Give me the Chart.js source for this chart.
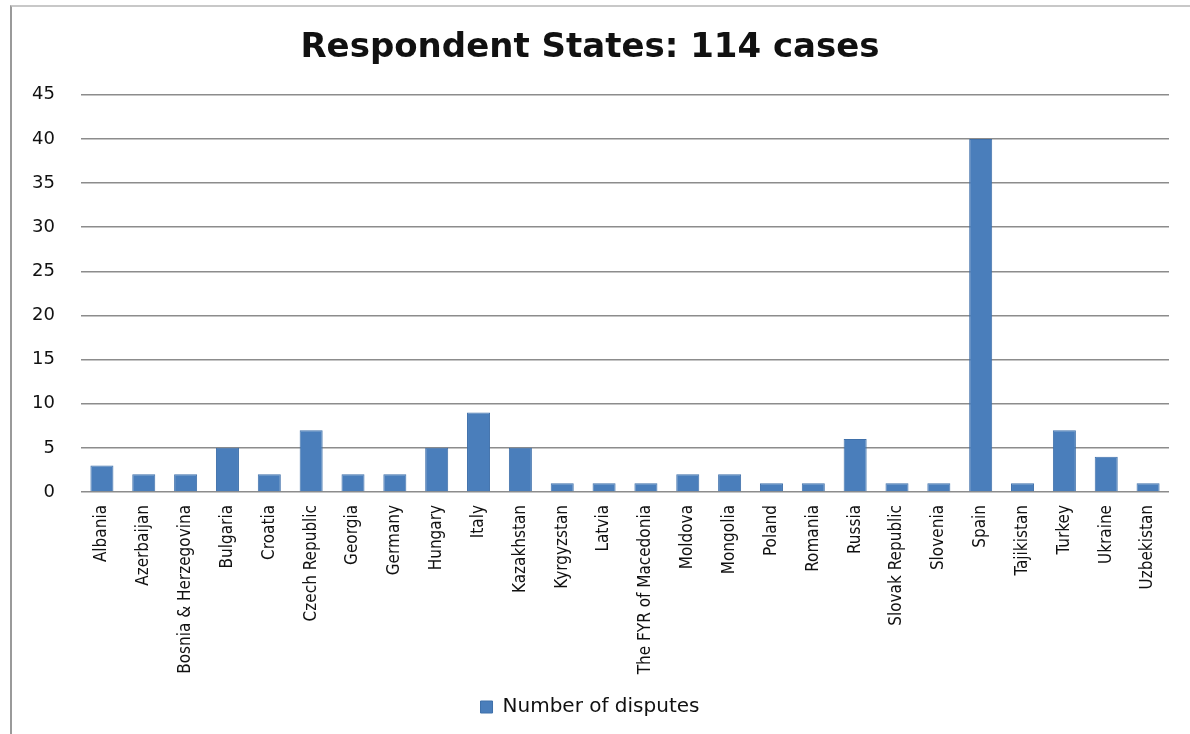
<!DOCTYPE html>
<html>
<head>
<meta charset="utf-8">
<title>Respondent States: 114 cases</title>
<script src="https://cdn.jsdelivr.net/npm/chart.js@4/dist/chart.umd.min.js"></script>
<style>
  html, body { margin: 0; padding: 0; background: #fff; }
  #wrap { position: relative; width: 1190px; height: 734px; overflow: hidden; }
  #frame { position: absolute; left: 10px; top: 5px; width: 1200px; height: 740px;
           border-left: 2px solid #9a9a9a; border-top: 2px solid #c8c8c8; box-sizing: border-box; }
  canvas { position: absolute; left: 0; top: 0; }
</style>
</head>
<body>
<div id="wrap">
  <div id="frame"></div>
  <canvas id="chart" width="1190" height="734"></canvas>
</div>
<script>
// Respondent states and the number of disputes brought against each
const states = [
  'Albania', 'Azerbaijan', 'Bosnia & Herzegovina', 'Bulgaria', 'Croatia',
  'Czech Republic', 'Georgia', 'Germany', 'Hungary', 'Italy', 'Kazakhstan',
  'Kyrgyzstan', 'Latvia', 'The FYR of Macedonia', 'Moldova', 'Mongolia',
  'Poland', 'Romania', 'Russia', 'Slovak Republic', 'Slovenia', 'Spain',
  'Tajikistan', 'Turkey', 'Ukraine', 'Uzbekistan'
];
const disputes = [3, 2, 2, 5, 2, 7, 2, 2, 5, 9, 5, 1, 1, 1, 2, 2, 1, 1, 6, 1, 1, 40, 1, 7, 4, 1];
const seriesName = 'Number of disputes';
const chartTitle = 'Respondent States: 114 cases';
const yMax = 45;
const yStep = 5;

new Chart(document.getElementById('chart'), {
  type: 'bar',
  data: {
    labels: states,
    datasets: [{
      label: seriesName,
      data: disputes,
      backgroundColor: '#4a7ebb',
      borderColor: '#3f70aa',
      borderWidth: 1,
      categoryPercentage: 1.0,
      barPercentage: 0.55
    }]
  },
  options: {
    responsive: false,
    animation: false,
    layout: { padding: { left: 11, right: 21, top: 0, bottom: 7 } },
    plugins: {
      title: {
        display: true,
        text: chartTitle,
        color: '#111',
        font: { family: 'DejaVu Sans', size: 34, weight: 'bold' },
        padding: { top: 28, bottom: 26 }
      },
      legend: {
        position: 'bottom',
        labels: {
          color: '#111',
          font: { family: 'DejaVu Sans', size: 20 },
          boxWidth: 12,
          boxHeight: 12,
          padding: 8
        }
      },
      tooltip: { enabled: false }
    },
    scales: {
      x: {
        grid: { display: false },
        border: { display: false },
        ticks: {
          color: '#111',
          font: { family: "'DejaVu Sans Condensed', 'Liberation Sans', sans-serif", size: 17 },
          minRotation: 90,
          maxRotation: 90,
          autoSkip: false,
          padding: 5
        },
        afterFit: (s) => { s.height = 197; }
      },
      y: {
        min: 0,
        max: yMax,
        ticks: {
          stepSize: yStep,
          color: '#111',
          font: { family: 'DejaVu Sans', size: 18 },
          padding: 26
        },
        grid: { color: '#8c8c8c', lineWidth: 1.5, drawTicks: false },
        border: { display: false },
        afterFit: (s) => { s.width = 70; }
      }
    }
  }
});
</script>
</body>
</html>
